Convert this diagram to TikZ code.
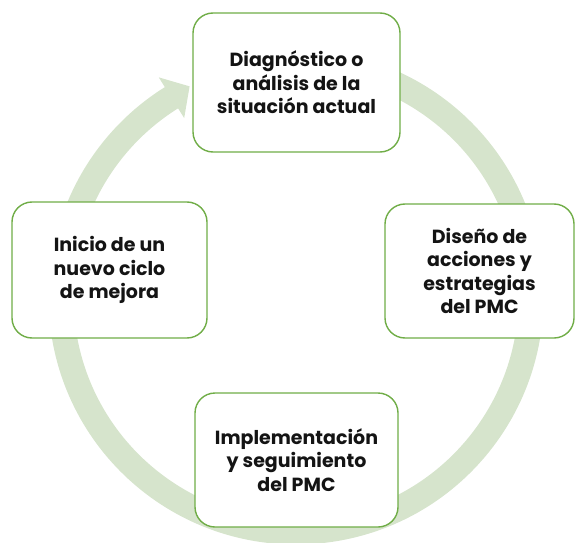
\documentclass[tikz,border=0pt]{standalone}
\usepackage{fontspec}
\setmainfont{Poppins}
\definecolor{boxgreen}{RGB}{112,173,71}
\definecolor{ringgreen}{RGB}{214,228,204}
\definecolor{txt}{RGB}{20,20,20}
\begin{document}
\begin{tikzpicture}[x=1pt,y=1pt,
  stagebox/.style={draw=boxgreen, line width=1.4pt, fill=white, rounded corners=20pt,
    align=center, inner sep=0pt, text=txt,
    font=\fontsize{19}{23.5}\selectfont\bfseries},
  ring/.style={draw=ringgreen, line width=25pt, line cap=butt},
  ringhead/.style={fill=ringgreen, draw=none}]
\useasboundingbox (0,0) rectangle (575,542);
\coordinate (c) at (296,245);
% ring with arrow head
\draw[ring] ([shift={(c)}]95:235pt) arc[start angle=95, end angle=-238.5, radius=235pt];
\coordinate (hb1) at ([shift={(c)}]122:259pt);
\coordinate (hb2) at ([shift={(c)}]122:211pt);
\coordinate (tip) at ([shift={(c)}]116.8:236pt);
\fill[ringhead] (hb1) -- (tip) -- (hb2) -- cycle;
% boxes
\node[stagebox, minimum width=207pt, minimum height=139pt] (diag) at (296.5,459.5)
  {Diagnóstico o\\análisis de la\\situación actual};
\node[stagebox, minimum width=189pt, minimum height=134pt] (dise) at (479.5,271)
  {Diseño de\\acciones y\\estrategias\\del PMC};
\node[stagebox, minimum width=203pt, minimum height=134pt] (impl) at (296.5,82)
  {Implementación\\y seguimiento\\del PMC};
\node[stagebox, minimum width=195pt, minimum height=136pt] (inic) at (109.5,272)
  {Inicio de un\\nuevo ciclo\\de mejora};
\end{tikzpicture}
\end{document}
